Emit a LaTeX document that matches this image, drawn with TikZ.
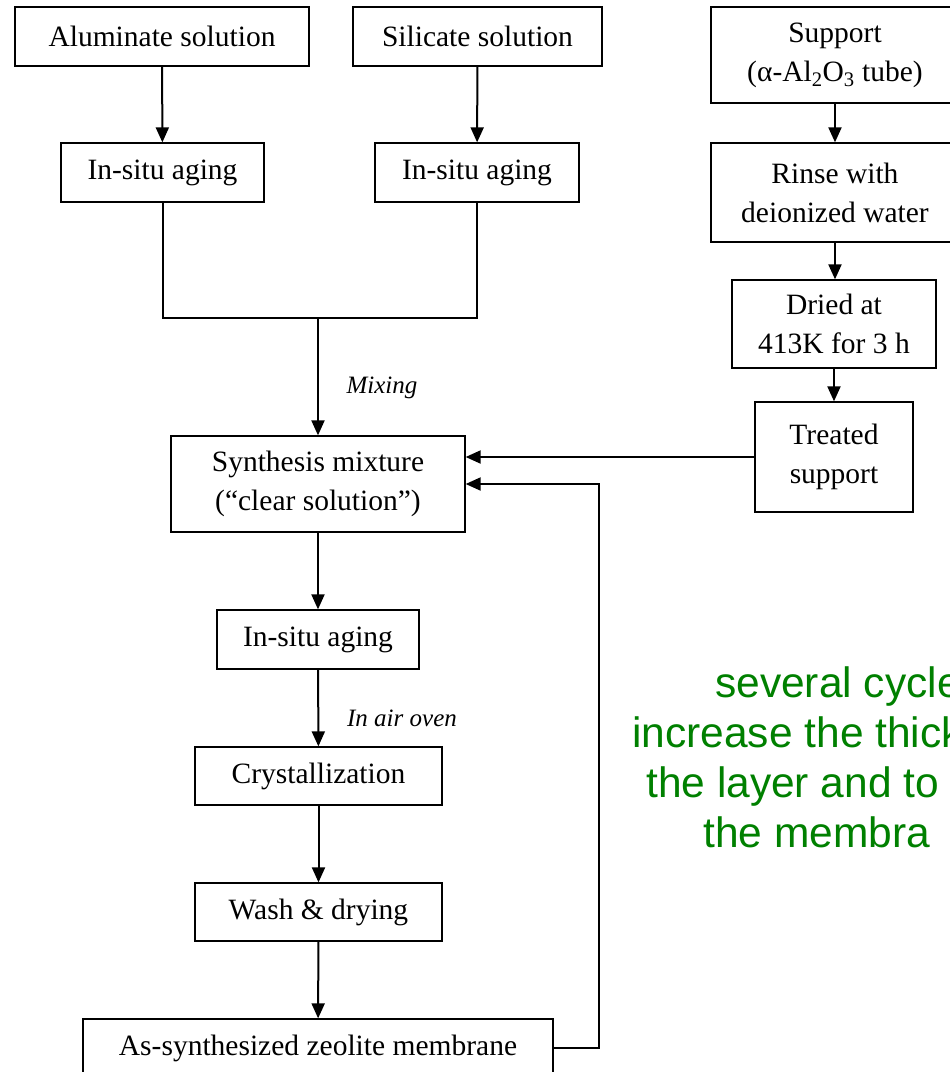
\documentclass[tikz,border=0pt]{standalone}
\usepackage{fontspec}
\setmainfont{Liberation Serif}
\newfontfamily\notefont{Liberation Sans}
\usetikzlibrary{arrows.meta}
\definecolor{notegreen}{RGB}{0,128,0}

\tikzset{
  stepbox/.style={draw, line width=1.3pt, inner sep=0pt, align=center,
    font=\fontsize{29.5}{39}\selectfont},
  flow/.style={line width=2pt, -{Triangle[length=15pt,width=13pt]}},
  plainline/.style={line width=2pt},
  remark/.style={inner sep=0pt, font=\fontsize{25}{30}\selectfont\itshape},
  note/.style={anchor=base west, inner sep=0pt, text=notegreen,
    font=\notefont\fontsize{42.5}{50}\selectfont}
}

\begin{document}
\begin{tikzpicture}[x=1pt, y=-1pt]
\useasboundingbox (0,0) rectangle (950,1072);

% solutions
\node[stepbox, minimum width=294, minimum height=59] (alum) at (162,36.5) {Aluminate solution};
\node[stepbox, minimum width=249, minimum height=59] (sil) at (477.5,36.5) {Silicate solution};
\node[stepbox, minimum width=203, minimum height=59] (ageA) at (162.5,172.5) {In-situ aging};
\node[stepbox, minimum width=204, minimum height=59] (ageB) at (477,172.5) {In-situ aging};
\coordinate (mixj) at (318,318);

% support
\node[stepbox, minimum width=248, minimum height=96] (supp) at (835,55) {Support\\(α-Al\textsubscript{2}O\textsubscript{3} tube)};
\node[stepbox, minimum width=248, minimum height=99] (rinse) at (835,192.5) {Rinse with\\deionized water};
\node[stepbox, minimum width=204, minimum height=88] (dried) at (834,324) {Dried at\\413K for 3 h};
\node[stepbox, minimum width=158, minimum height=110] (treat) at (834,457) {Treated\\support};

% main line
\node[stepbox, minimum width=294, minimum height=96] (synth) at (318,484) {Synthesis mixture\\(“clear solution”)};
\node[stepbox, minimum width=202, minimum height=59] (ageC) at (318,639.5) {In-situ aging};
\node[stepbox, minimum width=247, minimum height=58] (cryst) at (318.5,776) {Crystallization};
\node[stepbox, minimum width=247, minimum height=58] (wash) at (318.5,912) {Wash \& drying};
\node[stepbox, minimum width=470, minimum height=58] (asm) at (318,1048) {As-synthesized zeolite membrane};
\coordinate (loopx) at (599,0);

\node[remark] (mixlbl) at (382,388) {Mixing};
\node[remark] (ovenlbl) at (402,718) {In air oven};

% arrows
\draw[flow] (alum) -- (ageA);
\draw[flow] (sil) -- (ageB);
\draw[plainline] (ageA.south) |- (mixj) -| (ageB.south);
\draw[flow] (mixj) -- (synth.north);
\draw[flow] (supp.south -| rinse.north) -- (rinse.north);
\draw[flow] (rinse.south) -- (rinse.south |- dried.north);
\draw[flow] (dried.south) -- (dried.south |- treat.north);
\draw[flow] (treat.west) -- (treat.west -| synth.east);
\draw[flow] (synth) -- (ageC);
\draw[flow] (ageC) -- (cryst);
\draw[flow] (cryst) -- (wash);
\draw[flow] (wash) -- (asm);
\draw[flow] (asm.east) -- (asm.east -| loopx) |- (synth.east);

% note
\node[note] (note1) at (715,697) {several cycle};
\node[note] (note2) at (632,747) {increase the thick};
\node[note] (note3) at (646,797) {the layer and to};
\node[note] (note4) at (703,847) {the membra};
\end{tikzpicture}
\end{document}
